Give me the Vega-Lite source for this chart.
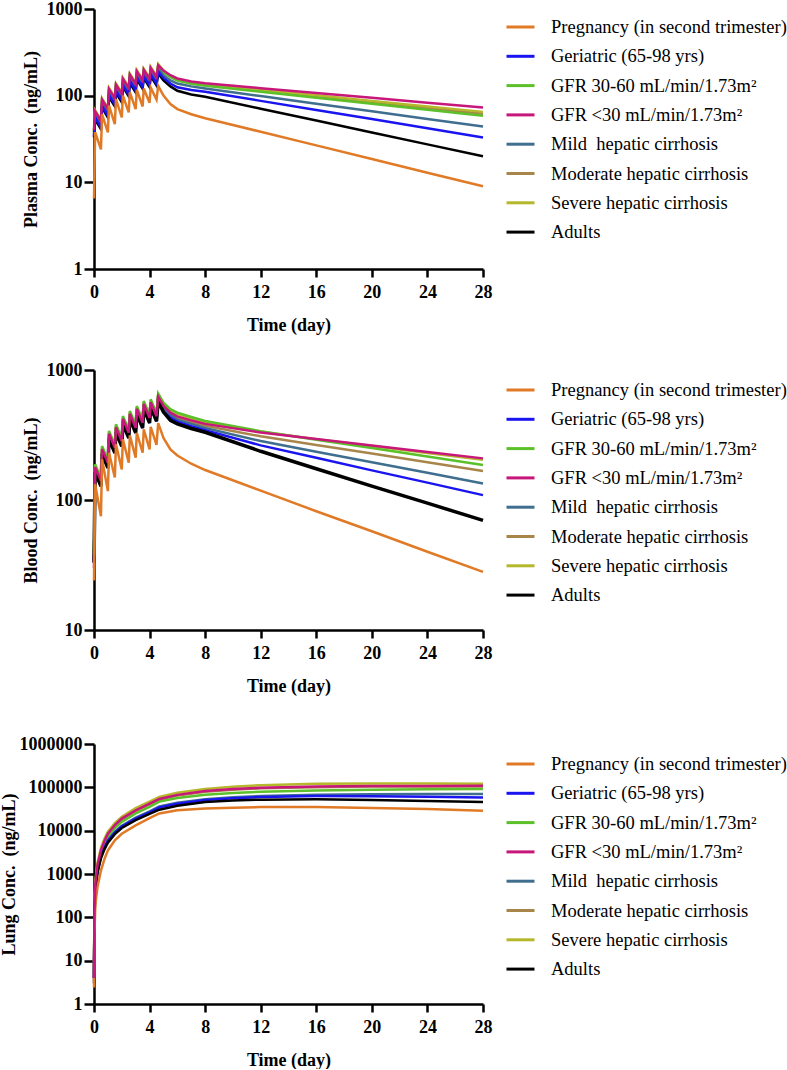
{
"$schema": "https://vega.github.io/schema/vega-lite/v6.json",
"background": "white",
"padding": {"left": 0, "top": 0, "right": 0, "bottom": 0},
"datasets": {
"groups": [
{"s":"Pr","g":"Pregnancy (in second trimester)"},
{"s":"Ge","g":"Geriatric (65-98 yrs)"},
{"s":"G1","g":"GFR 30-60 mL/min/1.73m²"},
{"s":"G2","g":"GFR <30 mL/min/1.73m²"},
{"s":"Mi","g":"Mild\u00a0 hepatic cirrhosis"},
{"s":"Mo","g":"Moderate hepatic cirrhosis"},
{"s":"Se","g":"Severe hepatic cirrhosis"},
{"s":"Ad","g":"Adults"}
],
"plasma": [
{"s":"Mo","t":0,"v":38},{"s":"Mo","t":0.08,"v":65},{"s":"Mo","t":0.5,"v":51},{"s":"Mo","t":0.58,"v":89},{"s":"Mo","t":1,"v":69},{"s":"Mo","t":1.08,"v":117},{"s":"Mo","t":1.5,"v":92},{"s":"Mo","t":1.58,"v":132},{"s":"Mo","t":2,"v":103},{"s":"Mo","t":2.08,"v":154},{"s":"Mo","t":2.5,"v":120},{"s":"Mo","t":2.58,"v":172},{"s":"Mo","t":3,"v":134},{"s":"Mo","t":3.08,"v":188},{"s":"Mo","t":3.5,"v":147},{"s":"Mo","t":3.58,"v":196},{"s":"Mo","t":4,"v":153},{"s":"Mo","t":4.08,"v":205},{"s":"Mo","t":4.5,"v":160},{"s":"Mo","t":4.62,"v":222},{"s":"Mo","t":5,"v":190},{"s":"Mo","t":5.5,"v":167},{"s":"Mo","t":6,"v":152},{"s":"Mo","t":7,"v":140},{"s":"Mo","t":8,"v":133},{"s":"Mo","t":12,"v":114},{"s":"Mo","t":16,"v":98},{"s":"Mo","t":20,"v":84},{"s":"Mo","t":24,"v":72.2},{"s":"Mo","t":28,"v":62},
{"s":"Se","t":0,"v":40},{"s":"Se","t":0.08,"v":68},{"s":"Se","t":0.5,"v":53},{"s":"Se","t":0.58,"v":93},{"s":"Se","t":1,"v":72},{"s":"Se","t":1.08,"v":123},{"s":"Se","t":1.5,"v":96},{"s":"Se","t":1.58,"v":138},{"s":"Se","t":2,"v":108},{"s":"Se","t":2.08,"v":161},{"s":"Se","t":2.5,"v":126},{"s":"Se","t":2.58,"v":180},{"s":"Se","t":3,"v":140},{"s":"Se","t":3.08,"v":197},{"s":"Se","t":3.5,"v":154},{"s":"Se","t":3.58,"v":205},{"s":"Se","t":4,"v":160},{"s":"Se","t":4.08,"v":215},{"s":"Se","t":4.5,"v":168},{"s":"Se","t":4.62,"v":232},{"s":"Se","t":5,"v":195},{"s":"Se","t":5.5,"v":170},{"s":"Se","t":6,"v":155},{"s":"Se","t":7,"v":143},{"s":"Se","t":8,"v":135},{"s":"Se","t":12,"v":116.6},{"s":"Se","t":16,"v":100.8},{"s":"Se","t":20,"v":87},{"s":"Se","t":24,"v":75.2},{"s":"Se","t":28,"v":65},
{"s":"G1","t":0,"v":38},{"s":"G1","t":0.08,"v":64},{"s":"G1","t":0.5,"v":50},{"s":"G1","t":0.58,"v":87},{"s":"G1","t":1,"v":68},{"s":"G1","t":1.08,"v":116},{"s":"G1","t":1.5,"v":90},{"s":"G1","t":1.58,"v":130},{"s":"G1","t":2,"v":102},{"s":"G1","t":2.08,"v":151},{"s":"G1","t":2.5,"v":118},{"s":"G1","t":2.58,"v":169},{"s":"G1","t":3,"v":132},{"s":"G1","t":3.08,"v":185},{"s":"G1","t":3.5,"v":145},{"s":"G1","t":3.58,"v":193},{"s":"G1","t":4,"v":150},{"s":"G1","t":4.08,"v":202},{"s":"G1","t":4.5,"v":158},{"s":"G1","t":4.62,"v":218},{"s":"G1","t":5,"v":187},{"s":"G1","t":5.5,"v":163},{"s":"G1","t":6,"v":149},{"s":"G1","t":7,"v":137},{"s":"G1","t":8,"v":130},{"s":"G1","t":12,"v":110.9},{"s":"G1","t":16,"v":94.6},{"s":"G1","t":20,"v":80.8},{"s":"G1","t":24,"v":68.9},{"s":"G1","t":28,"v":58.8},
{"s":"Mi","t":0,"v":36},{"s":"Mi","t":0.08,"v":60},{"s":"Mi","t":0.5,"v":47},{"s":"Mi","t":0.58,"v":82},{"s":"Mi","t":1,"v":64},{"s":"Mi","t":1.08,"v":109},{"s":"Mi","t":1.5,"v":85},{"s":"Mi","t":1.58,"v":122},{"s":"Mi","t":2,"v":96},{"s":"Mi","t":2.08,"v":142},{"s":"Mi","t":2.5,"v":112},{"s":"Mi","t":2.58,"v":159},{"s":"Mi","t":3,"v":124},{"s":"Mi","t":3.08,"v":174},{"s":"Mi","t":3.5,"v":136},{"s":"Mi","t":3.58,"v":181},{"s":"Mi","t":4,"v":142},{"s":"Mi","t":4.08,"v":190},{"s":"Mi","t":4.5,"v":149},{"s":"Mi","t":4.62,"v":205},{"s":"Mi","t":5,"v":172},{"s":"Mi","t":5.5,"v":150},{"s":"Mi","t":6,"v":138},{"s":"Mi","t":7,"v":128},{"s":"Mi","t":8,"v":121},{"s":"Mi","t":12,"v":98.9},{"s":"Mi","t":16,"v":80.8},{"s":"Mi","t":20,"v":66},{"s":"Mi","t":24,"v":53.9},{"s":"Mi","t":28,"v":44},
{"s":"Ad","t":0,"v":33},{"s":"Ad","t":0.08,"v":53},{"s":"Ad","t":0.5,"v":41},{"s":"Ad","t":0.58,"v":73},{"s":"Ad","t":1,"v":56},{"s":"Ad","t":1.08,"v":96},{"s":"Ad","t":1.5,"v":75},{"s":"Ad","t":1.58,"v":108},{"s":"Ad","t":2,"v":84},{"s":"Ad","t":2.08,"v":126},{"s":"Ad","t":2.5,"v":98},{"s":"Ad","t":2.58,"v":140},{"s":"Ad","t":3,"v":109},{"s":"Ad","t":3.08,"v":154},{"s":"Ad","t":3.5,"v":120},{"s":"Ad","t":3.58,"v":160},{"s":"Ad","t":4,"v":125},{"s":"Ad","t":4.08,"v":168},{"s":"Ad","t":4.5,"v":131},{"s":"Ad","t":4.62,"v":180},{"s":"Ad","t":5,"v":150},{"s":"Ad","t":5.5,"v":128},{"s":"Ad","t":6,"v":114},{"s":"Ad","t":7,"v":103},{"s":"Ad","t":8,"v":97},{"s":"Ad","t":12,"v":70.7},{"s":"Ad","t":16,"v":51.6},{"s":"Ad","t":20,"v":37.6},{"s":"Ad","t":24,"v":27.4},{"s":"Ad","t":28,"v":20},
{"s":"Ge","t":0,"v":34},{"s":"Ge","t":0.08,"v":56},{"s":"Ge","t":0.5,"v":43},{"s":"Ge","t":0.58,"v":76},{"s":"Ge","t":1,"v":59},{"s":"Ge","t":1.08,"v":101},{"s":"Ge","t":1.5,"v":79},{"s":"Ge","t":1.58,"v":113},{"s":"Ge","t":2,"v":89},{"s":"Ge","t":2.08,"v":132},{"s":"Ge","t":2.5,"v":103},{"s":"Ge","t":2.58,"v":148},{"s":"Ge","t":3,"v":115},{"s":"Ge","t":3.08,"v":162},{"s":"Ge","t":3.5,"v":126},{"s":"Ge","t":3.58,"v":168},{"s":"Ge","t":4,"v":131},{"s":"Ge","t":4.08,"v":176},{"s":"Ge","t":4.5,"v":138},{"s":"Ge","t":4.62,"v":190},{"s":"Ge","t":5,"v":160},{"s":"Ge","t":5.5,"v":138},{"s":"Ge","t":6,"v":125},{"s":"Ge","t":7,"v":116},{"s":"Ge","t":8,"v":111},{"s":"Ge","t":12,"v":87.1},{"s":"Ge","t":16,"v":68.4},{"s":"Ge","t":20,"v":53.7},{"s":"Ge","t":24,"v":42.1},{"s":"Ge","t":28,"v":33},
{"s":"G2","t":0,"v":40},{"s":"G2","t":0.08,"v":66},{"s":"G2","t":0.5,"v":51},{"s":"G2","t":0.58,"v":90},{"s":"G2","t":1,"v":70},{"s":"G2","t":1.08,"v":119},{"s":"G2","t":1.5,"v":93},{"s":"G2","t":1.58,"v":134},{"s":"G2","t":2,"v":105},{"s":"G2","t":2.08,"v":156},{"s":"G2","t":2.5,"v":122},{"s":"G2","t":2.58,"v":175},{"s":"G2","t":3,"v":136},{"s":"G2","t":3.08,"v":191},{"s":"G2","t":3.5,"v":149},{"s":"G2","t":3.58,"v":199},{"s":"G2","t":4,"v":155},{"s":"G2","t":4.08,"v":209},{"s":"G2","t":4.5,"v":163},{"s":"G2","t":4.62,"v":225},{"s":"G2","t":5,"v":195},{"s":"G2","t":5.5,"v":172},{"s":"G2","t":6,"v":158},{"s":"G2","t":7,"v":146},{"s":"G2","t":8,"v":139},{"s":"G2","t":12,"v":122},{"s":"G2","t":16,"v":107.5},{"s":"G2","t":20,"v":94.4},{"s":"G2","t":24,"v":83},{"s":"G2","t":28,"v":73},
{"s":"Pr","t":0,"v":6.5},{"s":"Pr","t":0.08,"v":38},{"s":"Pr","t":0.5,"v":24},{"s":"Pr","t":0.58,"v":61},{"s":"Pr","t":1,"v":37.6},{"s":"Pr","t":1.08,"v":77},{"s":"Pr","t":1.5,"v":47},{"s":"Pr","t":1.58,"v":91},{"s":"Pr","t":2,"v":56},{"s":"Pr","t":2.08,"v":100},{"s":"Pr","t":2.5,"v":64},{"s":"Pr","t":2.58,"v":109},{"s":"Pr","t":3,"v":70},{"s":"Pr","t":3.08,"v":117},{"s":"Pr","t":3.5,"v":75},{"s":"Pr","t":3.58,"v":121},{"s":"Pr","t":4,"v":83},{"s":"Pr","t":4.08,"v":124},{"s":"Pr","t":4.5,"v":90},{"s":"Pr","t":4.62,"v":130},{"s":"Pr","t":5,"v":100},{"s":"Pr","t":5.5,"v":80},{"s":"Pr","t":6,"v":70},{"s":"Pr","t":7,"v":61},{"s":"Pr","t":8,"v":55},{"s":"Pr","t":12,"v":38.3},{"s":"Pr","t":16,"v":26.7},{"s":"Pr","t":20,"v":18.6},{"s":"Pr","t":24,"v":12.9},{"s":"Pr","t":28,"v":9}
],
"blood": [
{"s":"Mo","t":0,"v":36},{"s":"Mo","t":0.08,"v":176},{"s":"Mo","t":0.5,"v":137},{"s":"Mo","t":0.58,"v":243},{"s":"Mo","t":1,"v":190},{"s":"Mo","t":1.08,"v":318},{"s":"Mo","t":1.5,"v":248},{"s":"Mo","t":1.58,"v":357},{"s":"Mo","t":2,"v":279},{"s":"Mo","t":2.08,"v":414},{"s":"Mo","t":2.5,"v":324},{"s":"Mo","t":2.58,"v":453},{"s":"Mo","t":3,"v":353},{"s":"Mo","t":3.08,"v":495},{"s":"Mo","t":3.5,"v":386},{"s":"Mo","t":3.58,"v":540},{"s":"Mo","t":4,"v":422},{"s":"Mo","t":4.08,"v":556},{"s":"Mo","t":4.5,"v":434},{"s":"Mo","t":4.62,"v":615},{"s":"Mo","t":5,"v":520},{"s":"Mo","t":5.5,"v":460},{"s":"Mo","t":6,"v":430},{"s":"Mo","t":7,"v":398},{"s":"Mo","t":8,"v":372},{"s":"Mo","t":12,"v":309},{"s":"Mo","t":16,"v":265},{"s":"Mo","t":20,"v":228},{"s":"Mo","t":24,"v":195},{"s":"Mo","t":28,"v":167},
{"s":"Se","t":0,"v":38},{"s":"Se","t":0.08,"v":184},{"s":"Se","t":0.5,"v":144},{"s":"Se","t":0.58,"v":255},{"s":"Se","t":1,"v":199},{"s":"Se","t":1.08,"v":333},{"s":"Se","t":1.5,"v":260},{"s":"Se","t":1.58,"v":374},{"s":"Se","t":2,"v":292},{"s":"Se","t":2.08,"v":434},{"s":"Se","t":2.5,"v":339},{"s":"Se","t":2.58,"v":474},{"s":"Se","t":3,"v":370},{"s":"Se","t":3.08,"v":518},{"s":"Se","t":3.5,"v":405},{"s":"Se","t":3.58,"v":566},{"s":"Se","t":4,"v":442},{"s":"Se","t":4.08,"v":583},{"s":"Se","t":4.5,"v":455},{"s":"Se","t":4.62,"v":645},{"s":"Se","t":5,"v":555},{"s":"Se","t":5.5,"v":490},{"s":"Se","t":6,"v":460},{"s":"Se","t":7,"v":425},{"s":"Se","t":8,"v":395},{"s":"Se","t":12,"v":335},{"s":"Se","t":16,"v":294},{"s":"Se","t":20,"v":260},{"s":"Se","t":24,"v":230},{"s":"Se","t":28,"v":204},
{"s":"Mi","t":0,"v":35},{"s":"Mi","t":0.08,"v":171},{"s":"Mi","t":0.5,"v":134},{"s":"Mi","t":0.58,"v":237},{"s":"Mi","t":1,"v":185},{"s":"Mi","t":1.08,"v":309},{"s":"Mi","t":1.5,"v":241},{"s":"Mi","t":1.58,"v":348},{"s":"Mi","t":2,"v":271},{"s":"Mi","t":2.08,"v":403},{"s":"Mi","t":2.5,"v":315},{"s":"Mi","t":2.58,"v":440},{"s":"Mi","t":3,"v":344},{"s":"Mi","t":3.08,"v":481},{"s":"Mi","t":3.5,"v":376},{"s":"Mi","t":3.58,"v":526},{"s":"Mi","t":4,"v":410},{"s":"Mi","t":4.08,"v":541},{"s":"Mi","t":4.5,"v":422},{"s":"Mi","t":4.62,"v":599},{"s":"Mi","t":5,"v":505},{"s":"Mi","t":5.5,"v":450},{"s":"Mi","t":6,"v":415},{"s":"Mi","t":7,"v":385},{"s":"Mi","t":8,"v":358},{"s":"Mi","t":12,"v":284},{"s":"Mi","t":16,"v":235},{"s":"Mi","t":20,"v":195},{"s":"Mi","t":24,"v":162},{"s":"Mi","t":28,"v":134},
{"s":"Ge","t":0,"v":33},{"s":"Ge","t":0.08,"v":163},{"s":"Ge","t":0.5,"v":127},{"s":"Ge","t":0.58,"v":225},{"s":"Ge","t":1,"v":176},{"s":"Ge","t":1.08,"v":294},{"s":"Ge","t":1.5,"v":229},{"s":"Ge","t":1.58,"v":330},{"s":"Ge","t":2,"v":258},{"s":"Ge","t":2.08,"v":383},{"s":"Ge","t":2.5,"v":299},{"s":"Ge","t":2.58,"v":419},{"s":"Ge","t":3,"v":327},{"s":"Ge","t":3.08,"v":458},{"s":"Ge","t":3.5,"v":357},{"s":"Ge","t":3.58,"v":500},{"s":"Ge","t":4,"v":390},{"s":"Ge","t":4.08,"v":515},{"s":"Ge","t":4.5,"v":401},{"s":"Ge","t":4.62,"v":569},{"s":"Ge","t":5,"v":480},{"s":"Ge","t":5.5,"v":430},{"s":"Ge","t":6,"v":400},{"s":"Ge","t":7,"v":370},{"s":"Ge","t":8,"v":345},{"s":"Ge","t":12,"v":263},{"s":"Ge","t":16,"v":211},{"s":"Ge","t":20,"v":169},{"s":"Ge","t":24,"v":136},{"s":"Ge","t":28,"v":109},
{"s":"Ad","t":0,"v":33},{"s":"Ad","t":0.08,"v":164},{"s":"Ad","t":0.5,"v":128},{"s":"Ad","t":0.58,"v":226},{"s":"Ad","t":1,"v":177},{"s":"Ad","t":1.08,"v":296},{"s":"Ad","t":1.5,"v":231},{"s":"Ad","t":1.58,"v":332},{"s":"Ad","t":2,"v":259},{"s":"Ad","t":2.08,"v":385},{"s":"Ad","t":2.5,"v":301},{"s":"Ad","t":2.58,"v":421},{"s":"Ad","t":3,"v":329},{"s":"Ad","t":3.08,"v":460},{"s":"Ad","t":3.5,"v":359},{"s":"Ad","t":3.58,"v":503},{"s":"Ad","t":4,"v":392},{"s":"Ad","t":4.08,"v":518},{"s":"Ad","t":4.5,"v":404},{"s":"Ad","t":4.62,"v":572},{"s":"Ad","t":5,"v":475},{"s":"Ad","t":5.5,"v":410},{"s":"Ad","t":6,"v":385},{"s":"Ad","t":7,"v":355},{"s":"Ad","t":8,"v":332},{"s":"Ad","t":12,"v":237},{"s":"Ad","t":16,"v":174},{"s":"Ad","t":20,"v":128},{"s":"Ad","t":24,"v":94.5},{"s":"Ad","t":28,"v":69.8},
{"s":"G1","t":0,"v":38},{"s":"G1","t":0.08,"v":188},{"s":"G1","t":0.5,"v":147},{"s":"G1","t":0.58,"v":260},{"s":"G1","t":1,"v":203},{"s":"G1","t":1.08,"v":340},{"s":"G1","t":1.5,"v":265},{"s":"G1","t":1.58,"v":382},{"s":"G1","t":2,"v":298},{"s":"G1","t":2.08,"v":443},{"s":"G1","t":2.5,"v":346},{"s":"G1","t":2.58,"v":484},{"s":"G1","t":3,"v":378},{"s":"G1","t":3.08,"v":529},{"s":"G1","t":3.5,"v":413},{"s":"G1","t":3.58,"v":578},{"s":"G1","t":4,"v":451},{"s":"G1","t":4.08,"v":595},{"s":"G1","t":4.5,"v":464},{"s":"G1","t":4.62,"v":658},{"s":"G1","t":5,"v":560},{"s":"G1","t":5.5,"v":500},{"s":"G1","t":6,"v":470},{"s":"G1","t":7,"v":435},{"s":"G1","t":8,"v":405},{"s":"G1","t":12,"v":338},{"s":"G1","t":16,"v":291},{"s":"G1","t":20,"v":251},{"s":"G1","t":24,"v":216},{"s":"G1","t":28,"v":186},
{"s":"G2","t":0,"v":30},{"s":"G2","t":0.08,"v":179},{"s":"G2","t":0.5,"v":140},{"s":"G2","t":0.58,"v":247},{"s":"G2","t":1,"v":193},{"s":"G2","t":1.08,"v":323},{"s":"G2","t":1.5,"v":252},{"s":"G2","t":1.58,"v":363},{"s":"G2","t":2,"v":283},{"s":"G2","t":2.08,"v":421},{"s":"G2","t":2.5,"v":329},{"s":"G2","t":2.58,"v":460},{"s":"G2","t":3,"v":359},{"s":"G2","t":3.08,"v":503},{"s":"G2","t":3.5,"v":392},{"s":"G2","t":3.58,"v":549},{"s":"G2","t":4,"v":428},{"s":"G2","t":4.08,"v":565},{"s":"G2","t":4.5,"v":441},{"s":"G2","t":4.62,"v":625},{"s":"G2","t":5,"v":530},{"s":"G2","t":5.5,"v":470},{"s":"G2","t":6,"v":440},{"s":"G2","t":7,"v":410},{"s":"G2","t":8,"v":385},{"s":"G2","t":12,"v":331},{"s":"G2","t":16,"v":295},{"s":"G2","t":20,"v":263},{"s":"G2","t":24,"v":234},{"s":"G2","t":28,"v":209},
{"s":"Pr","t":0,"v":24},{"s":"Pr","t":0.08,"v":132},{"s":"Pr","t":0.5,"v":75},{"s":"Pr","t":0.58,"v":206},{"s":"Pr","t":1,"v":117},{"s":"Pr","t":1.08,"v":231},{"s":"Pr","t":1.5,"v":149},{"s":"Pr","t":1.58,"v":268},{"s":"Pr","t":2,"v":172},{"s":"Pr","t":2.08,"v":293},{"s":"Pr","t":2.5,"v":194},{"s":"Pr","t":2.58,"v":314},{"s":"Pr","t":3,"v":212},{"s":"Pr","t":3.08,"v":329},{"s":"Pr","t":3.5,"v":231},{"s":"Pr","t":3.58,"v":350},{"s":"Pr","t":4,"v":245},{"s":"Pr","t":4.08,"v":365},{"s":"Pr","t":4.5,"v":265},{"s":"Pr","t":4.62,"v":390},{"s":"Pr","t":5,"v":300},{"s":"Pr","t":5.5,"v":245},{"s":"Pr","t":6,"v":220},{"s":"Pr","t":7,"v":190},{"s":"Pr","t":8,"v":170},{"s":"Pr","t":12,"v":118},{"s":"Pr","t":16,"v":82},{"s":"Pr","t":20,"v":57.5},{"s":"Pr","t":24,"v":40},{"s":"Pr","t":28,"v":28}
],
"lung": [
{"s":"Mo","t":0,"v":4},{"s":"Mo","t":0.03,"v":125},{"s":"Mo","t":0.1,"v":600},{"s":"Mo","t":0.25,"v":1550},{"s":"Mo","t":0.5,"v":3400},{"s":"Mo","t":0.75,"v":5600},{"s":"Mo","t":1,"v":8200},{"s":"Mo","t":1.5,"v":13000},{"s":"Mo","t":2,"v":18300},{"s":"Mo","t":3,"v":28500},{"s":"Mo","t":4,"v":40500},{"s":"Mo","t":4.7,"v":52000},{"s":"Mo","t":6,"v":64500},{"s":"Mo","t":8,"v":79000},{"s":"Mo","t":10,"v":88000},{"s":"Mo","t":12,"v":95000},{"s":"Mo","t":16,"v":101000},{"s":"Mo","t":20,"v":104000},{"s":"Mo","t":24,"v":105000},{"s":"Mo","t":28,"v":105000},
{"s":"Se","t":0,"v":5},{"s":"Se","t":0.03,"v":150},{"s":"Se","t":0.1,"v":700},{"s":"Se","t":0.25,"v":1800},{"s":"Se","t":0.5,"v":4000},{"s":"Se","t":0.75,"v":6500},{"s":"Se","t":1,"v":9500},{"s":"Se","t":1.5,"v":15000},{"s":"Se","t":2,"v":21000},{"s":"Se","t":3,"v":33000},{"s":"Se","t":4,"v":47000},{"s":"Se","t":4.7,"v":60000},{"s":"Se","t":6,"v":75000},{"s":"Se","t":8,"v":92000},{"s":"Se","t":10,"v":103000},{"s":"Se","t":12,"v":112000},{"s":"Se","t":16,"v":121000},{"s":"Se","t":20,"v":123000},{"s":"Se","t":24,"v":123000},{"s":"Se","t":28,"v":121000},
{"s":"G1","t":0,"v":5},{"s":"G1","t":0.03,"v":120},{"s":"G1","t":0.1,"v":550},{"s":"G1","t":0.25,"v":1400},{"s":"G1","t":0.5,"v":3100},{"s":"G1","t":0.75,"v":5000},{"s":"G1","t":1,"v":7300},{"s":"G1","t":1.5,"v":11500},{"s":"G1","t":2,"v":16000},{"s":"G1","t":3,"v":25000},{"s":"G1","t":4,"v":35500},{"s":"G1","t":4.7,"v":47000},{"s":"G1","t":6,"v":57000},{"s":"G1","t":8,"v":67000},{"s":"G1","t":10,"v":74000},{"s":"G1","t":12,"v":79000},{"s":"G1","t":16,"v":85000},{"s":"G1","t":20,"v":88000},{"s":"G1","t":24,"v":90000},{"s":"G1","t":28,"v":91000},
{"s":"Mi","t":0,"v":4},{"s":"Mi","t":0.03,"v":100},{"s":"Mi","t":0.1,"v":460},{"s":"Mi","t":0.25,"v":1200},{"s":"Mi","t":0.5,"v":2600},{"s":"Mi","t":0.75,"v":4200},{"s":"Mi","t":1,"v":6000},{"s":"Mi","t":1.5,"v":9500},{"s":"Mi","t":2,"v":13000},{"s":"Mi","t":3,"v":20000},{"s":"Mi","t":4,"v":28000},{"s":"Mi","t":4.7,"v":36000},{"s":"Mi","t":6,"v":44000},{"s":"Mi","t":8,"v":53000},{"s":"Mi","t":10,"v":59000},{"s":"Mi","t":12,"v":63000},{"s":"Mi","t":16,"v":67000},{"s":"Mi","t":20,"v":69000},{"s":"Mi","t":24,"v":70000},{"s":"Mi","t":28,"v":70000},
{"s":"Ge","t":0,"v":4},{"s":"Ge","t":0.03,"v":100},{"s":"Ge","t":0.1,"v":450},{"s":"Ge","t":0.25,"v":1150},{"s":"Ge","t":0.5,"v":2500},{"s":"Ge","t":0.75,"v":4000},{"s":"Ge","t":1,"v":5800},{"s":"Ge","t":1.5,"v":9000},{"s":"Ge","t":2,"v":12500},{"s":"Ge","t":3,"v":19000},{"s":"Ge","t":4,"v":26500},{"s":"Ge","t":4.7,"v":34500},{"s":"Ge","t":6,"v":42000},{"s":"Ge","t":8,"v":51000},{"s":"Ge","t":10,"v":56000},{"s":"Ge","t":12,"v":60000},{"s":"Ge","t":16,"v":63000},{"s":"Ge","t":20,"v":62000},{"s":"Ge","t":24,"v":60500},{"s":"Ge","t":28,"v":58600},
{"s":"Ad","t":0,"v":3},{"s":"Ad","t":0.03,"v":90},{"s":"Ad","t":0.1,"v":400},{"s":"Ad","t":0.25,"v":1050},{"s":"Ad","t":0.5,"v":2300},{"s":"Ad","t":0.75,"v":3700},{"s":"Ad","t":1,"v":5300},{"s":"Ad","t":1.5,"v":8300},{"s":"Ad","t":2,"v":11500},{"s":"Ad","t":3,"v":17500},{"s":"Ad","t":4,"v":24500},{"s":"Ad","t":4.7,"v":30500},{"s":"Ad","t":6,"v":37500},{"s":"Ad","t":8,"v":46000},{"s":"Ad","t":10,"v":50000},{"s":"Ad","t":12,"v":52000},{"s":"Ad","t":16,"v":53000},{"s":"Ad","t":20,"v":51000},{"s":"Ad","t":24,"v":48500},{"s":"Ad","t":28,"v":45700},
{"s":"Pr","t":0,"v":2.4},{"s":"Pr","t":0.03,"v":40},{"s":"Pr","t":0.1,"v":200},{"s":"Pr","t":0.25,"v":500},{"s":"Pr","t":0.5,"v":1200},{"s":"Pr","t":0.75,"v":2200},{"s":"Pr","t":1,"v":3500},{"s":"Pr","t":1.5,"v":6000},{"s":"Pr","t":2,"v":8500},{"s":"Pr","t":3,"v":13200},{"s":"Pr","t":4,"v":19400},{"s":"Pr","t":4.7,"v":25000},{"s":"Pr","t":6,"v":29500},{"s":"Pr","t":8,"v":32500},{"s":"Pr","t":10,"v":34000},{"s":"Pr","t":12,"v":35000},{"s":"Pr","t":16,"v":35000},{"s":"Pr","t":20,"v":33500},{"s":"Pr","t":24,"v":31500},{"s":"Pr","t":28,"v":29000},
{"s":"G2","t":0,"v":4},{"s":"G2","t":0.03,"v":130},{"s":"G2","t":0.1,"v":620},{"s":"G2","t":0.25,"v":1600},{"s":"G2","t":0.5,"v":3500},{"s":"G2","t":0.75,"v":5800},{"s":"G2","t":1,"v":8500},{"s":"G2","t":1.5,"v":13500},{"s":"G2","t":2,"v":19000},{"s":"G2","t":3,"v":29500},{"s":"G2","t":4,"v":42000},{"s":"G2","t":4.7,"v":54000},{"s":"G2","t":6,"v":67000},{"s":"G2","t":8,"v":82000},{"s":"G2","t":10,"v":91000},{"s":"G2","t":12,"v":98000},{"s":"G2","t":16,"v":104000},{"s":"G2","t":20,"v":107000},{"s":"G2","t":24,"v":108000},{"s":"G2","t":28,"v":109000}
]
},
"vconcat": [
{
"vconcat": [
{
"width": 389, "height": 260,
"data": {"name": "plasma"},
"transform": [{"lookup": "s", "from": {"data": {"name": "groups"}, "key": "s", "fields": ["g"]}}],
"mark": {"type": "line", "strokeWidth": 2.5},
"encoding": {
"x": {"field": "t", "type": "quantitative", "scale": {"domain": [0, 28], "nice": false}, "axis": {"values": [0,4,8,12,16,20,24,28], "title": "Time (day)"}},
"y": {"field": "v", "type": "quantitative", "scale": {"type": "log", "domain": [1, 1000], "nice": false}, "axis": {"values": [1,10,100,1000], "format": "d", "title": "Plasma Conc.\u00a0 (ng/mL)", "titlePadding": 6}},
"color": {"field": "g", "type": "nominal", "scale": {"domain": ["Pregnancy (in second trimester)","Geriatric (65-98 yrs)","GFR 30-60 mL/min/1.73m²","GFR <30 mL/min/1.73m²","Mild\u00a0 hepatic cirrhosis","Moderate hepatic cirrhosis","Severe hepatic cirrhosis","Adults"], "range": ["#E07A26","#1A14F0","#5CC02A","#C8177A","#3F6E8E","#A8854A","#B4B82A","#000000"]}, "legend": {"title": null, "orient": "none", "legendX": 411, "legendY": 2.5}}
}
},
{
"width": 389, "height": 260,
"data": {"name": "blood"},
"transform": [{"lookup": "s", "from": {"data": {"name": "groups"}, "key": "s", "fields": ["g"]}}],
"mark": {"type": "line"},
"encoding": {
"x": {"field": "t", "type": "quantitative", "scale": {"domain": [0, 28], "nice": false}, "axis": {"values": [0,4,8,12,16,20,24,28], "title": "Time (day)"}},
"y": {"field": "v", "type": "quantitative", "scale": {"type": "log", "domain": [10, 1000], "nice": false}, "axis": {"values": [10,100,1000], "format": "d", "title": "Blood Conc.\u00a0 (ng/mL)", "titlePadding": 6}},
"color": {"field": "g", "type": "nominal", "scale": {"domain": ["Pregnancy (in second trimester)","Geriatric (65-98 yrs)","GFR 30-60 mL/min/1.73m²","GFR <30 mL/min/1.73m²","Mild\u00a0 hepatic cirrhosis","Moderate hepatic cirrhosis","Severe hepatic cirrhosis","Adults"], "range": ["#E07A26","#1A14F0","#5CC02A","#C8177A","#3F6E8E","#A8854A","#B4B82A","#000000"]}, "legend": {"title": null, "orient": "none", "legendX": 411, "legendY": 4.5}},
"strokeWidth": {"condition": {"test": "datum.s === 'Ad'", "value": 3.5}, "value": 2.5}
}
}
],
"spacing": 27,
"resolve": {"scale": {"color": "independent"}, "legend": {"color": "independent"}}
},
{
"width": 389, "height": 260,
"data": {"name": "lung"},
"transform": [{"lookup": "s", "from": {"data": {"name": "groups"}, "key": "s", "fields": ["g"]}}],
"mark": {"type": "line", "strokeWidth": 2.5},
"encoding": {
"x": {"field": "t", "type": "quantitative", "scale": {"domain": [0, 28], "nice": false}, "axis": {"values": [0,4,8,12,16,20,24,28], "title": "Time (day)"}},
"y": {"field": "v", "type": "quantitative", "scale": {"type": "log", "domain": [1, 1000000], "nice": false}, "axis": {"values": [1,10,100,1000,10000,100000,1000000], "format": "d", "title": "Lung Conc.\u00a0 (ng/mL)", "titlePadding": 1}},
"color": {"field": "g", "type": "nominal", "scale": {"domain": ["Pregnancy (in second trimester)","Geriatric (65-98 yrs)","GFR 30-60 mL/min/1.73m²","GFR <30 mL/min/1.73m²","Mild\u00a0 hepatic cirrhosis","Moderate hepatic cirrhosis","Severe hepatic cirrhosis","Adults"], "range": ["#E07A26","#1A14F0","#5CC02A","#C8177A","#3F6E8E","#A8854A","#B4B82A","#000000"]}, "legend": {"title": null, "orient": "none", "legendX": 411, "legendY": 4.5}}
}
}
],
"spacing": 40,
"resolve": {"scale": {"color": "independent"}, "legend": {"color": "independent"}},
"config": {
"view": {"stroke": null},
"font": "Liberation Serif",
"axis": {"grid": false, "labelFlush": false, "domainColor": "black", "domainWidth": 2.5, "tickColor": "black", "tickWidth": 2.5, "labelFont": "Liberation Serif", "titleFont": "Liberation Serif", "labelFontWeight": "bold", "labelFontSize": 18, "labelColor": "black", "titleFontWeight": "bold", "titleFontSize": 18, "titleColor": "black"},
"axisX": {"tickSize": 8, "labelPadding": 6, "titlePadding": 15},
"axisY": {"tickSize": 10, "labelPadding": 2},
"legend": {"symbolType": "stroke", "symbolSize": 784, "symbolStrokeWidth": 3, "labelFont": "Liberation Serif", "labelFontSize": 18.5, "labelColor": "black", "labelOffset": 15, "rowPadding": 4.3, "labelLimit": 0}
}
}
